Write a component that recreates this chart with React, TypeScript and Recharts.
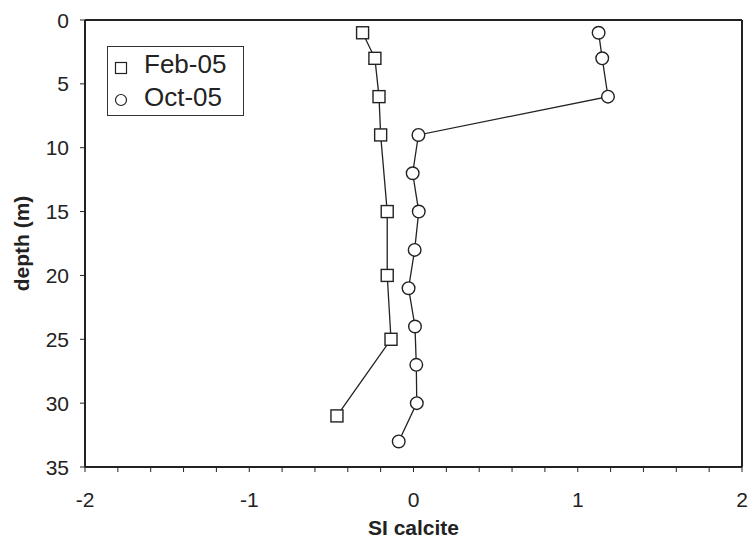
import React from "react";
import {
  ScatterChart,
  Scatter,
  XAxis,
  YAxis,
  ReferenceLine,
  Legend,
  Label,
} from "recharts";

// Feb-05 profile
const febDepth = [1, 3, 6, 9, 15, 20, 25, 31];
const febSI = [-0.31, -0.235, -0.21, -0.2, -0.16, -0.16, -0.137, -0.466];

// Oct-05 profile
const octDepth = [1, 3, 6, 9, 12, 15, 18, 21, 24, 27, 30, 33];
const octSI = [1.127, 1.149, 1.184, 0.03, -0.005, 0.032, 0.007, -0.03, 0.009, 0.017, 0.02, -0.09];

const xTicks = [
  -2, -1.8, -1.6, -1.4, -1.2, -1, -0.8, -0.6, -0.4, -0.2, 0, 0.2, 0.4, 0.6, 0.8, 1, 1.2, 1.4,
  1.6, 1.8, 2,
];
const yTicks = [0, 5, 10, 15, 20, 25, 30, 35];

const febData = febDepth.map((d, i) => ({ x: febSI[i], y: d }));
const octData = octDepth.map((d, i) => ({ x: octSI[i], y: d }));

const FONT = "'Liberation Sans', Arial, Helvetica, sans-serif";
const INK = "#222";

const SquareShape = (props: any) => {
  const { cx, cy } = props;
  if (cx == null || cy == null) return <g />;
  return (
    <rect x={cx - 6} y={cy - 6} width={12} height={12} fill="#fff" stroke={INK} strokeWidth={1.4} />
  );
};

const CircleShape = (props: any) => {
  const { cx, cy } = props;
  if (cx == null || cy == null) return <g />;
  return <circle cx={cx} cy={cy} r={6.3} fill="#fff" stroke={INK} strokeWidth={1.4} />;
};

const XTick = (props: any) => {
  const { x, y, payload } = props;
  const v = payload.value;
  if (Math.abs(v - Math.round(v)) > 1e-6) return <g />;
  return (
    <text x={x} y={y} dy="0.71em" textAnchor="middle" fontSize={21} fontFamily={FONT} fill={INK}>
      {String(Math.round(v))}
    </text>
  );
};

const YTick = (props: any) => {
  const { x, y, payload } = props;
  return (
    <text x={x} y={y} dy="0.36em" textAnchor="end" fontSize={21} fontFamily={FONT} fill={INK}>
      {String(payload.value)}
    </text>
  );
};

const LegendBox = () => (
  <svg width={138} height={71} style={{ display: "block" }}>
    <rect x={0.5} y={0.5} width={136} height={69} fill="#fff" stroke="#333" strokeWidth={1} />
    <rect x={8.5} y={16.5} width={11} height={11} fill="#fff" stroke={INK} strokeWidth={1.2} />
    <text x={37} y={27} fontSize={26} fontFamily={FONT} fill={INK}>
      Feb-05
    </text>
    <circle cx={14} cy={54} r={5.5} fill="#fff" stroke={INK} strokeWidth={1.2} />
    <text x={37} y={60} fontSize={26} fontFamily={FONT} fill={INK}>
      Oct-05
    </text>
  </svg>
);

export default function App() {
  return (
    <div style={{ position: "absolute", left: 0, top: 0, width: 751, height: 541, background: "#fff" }}>
      <ScatterChart width={751} height={541} margin={{ top: 20, right: 9, bottom: 0, left: 0 }}>
        <XAxis
          type="number"
          dataKey="x"
          domain={[-2, 2]}
          ticks={xTicks}
          interval={0}
          allowDataOverflow
          height={74}
          tickSize={5}
          tickMargin={20}
          tick={<XTick />}
          axisLine={{ stroke: INK, strokeWidth: 2 }}
          tickLine={{ stroke: INK, strokeWidth: 1 }}
        >
          <Label
            content={(p: any) => {
              const vb = p.viewBox || {};
              return (
                <text
                  x={vb.x + vb.width / 2}
                  y={535}
                  textAnchor="middle"
                  fontSize={21}
                  fontWeight="bold"
                  fontFamily={FONT}
                  fill={INK}
                >
                  SI calcite
                </text>
              );
            }}
          />
        </XAxis>
        <YAxis
          type="number"
          dataKey="y"
          domain={[0, 35]}
          reversed
          ticks={yTicks}
          interval={0}
          allowDataOverflow
          width={85}
          tickSize={5}
          tickMargin={11}
          tick={<YTick />}
          axisLine={{ stroke: INK, strokeWidth: 2 }}
          tickLine={{ stroke: INK, strokeWidth: 1 }}
        >
          <Label
            content={(p: any) => {
              const vb = p.viewBox || {};
              const cy = vb.y + vb.height / 2;
              return (
                <text
                  x={21}
                  y={cy}
                  dy="0.36em"
                  transform={`rotate(-90, 21, ${cy})`}
                  textAnchor="middle"
                  fontSize={21}
                  fontWeight="bold"
                  fontFamily={FONT}
                  fill={INK}
                >
                  depth (m)
                </text>
              );
            }}
          />
        </YAxis>
        <ReferenceLine y={0} stroke={INK} strokeWidth={2} />
        <ReferenceLine x={2} stroke={INK} strokeWidth={2} />
        <Legend
          layout="vertical"
          align="center"
          verticalAlign="middle"
          content={() => <LegendBox />}
          wrapperStyle={{ position: "absolute", left: 107, top: 46, width: 138, height: 71 }}
        />
        <Scatter
          name="Feb-05"
          data={febData}
          line={{ stroke: INK, strokeWidth: 1.3 }}
          lineType="joint"
          shape={<SquareShape />}
          isAnimationActive={false}
        />
        <Scatter
          name="Oct-05"
          data={octData}
          line={{ stroke: INK, strokeWidth: 1.3 }}
          lineType="joint"
          shape={<CircleShape />}
          isAnimationActive={false}
        />
      </ScatterChart>
    </div>
  );
}
